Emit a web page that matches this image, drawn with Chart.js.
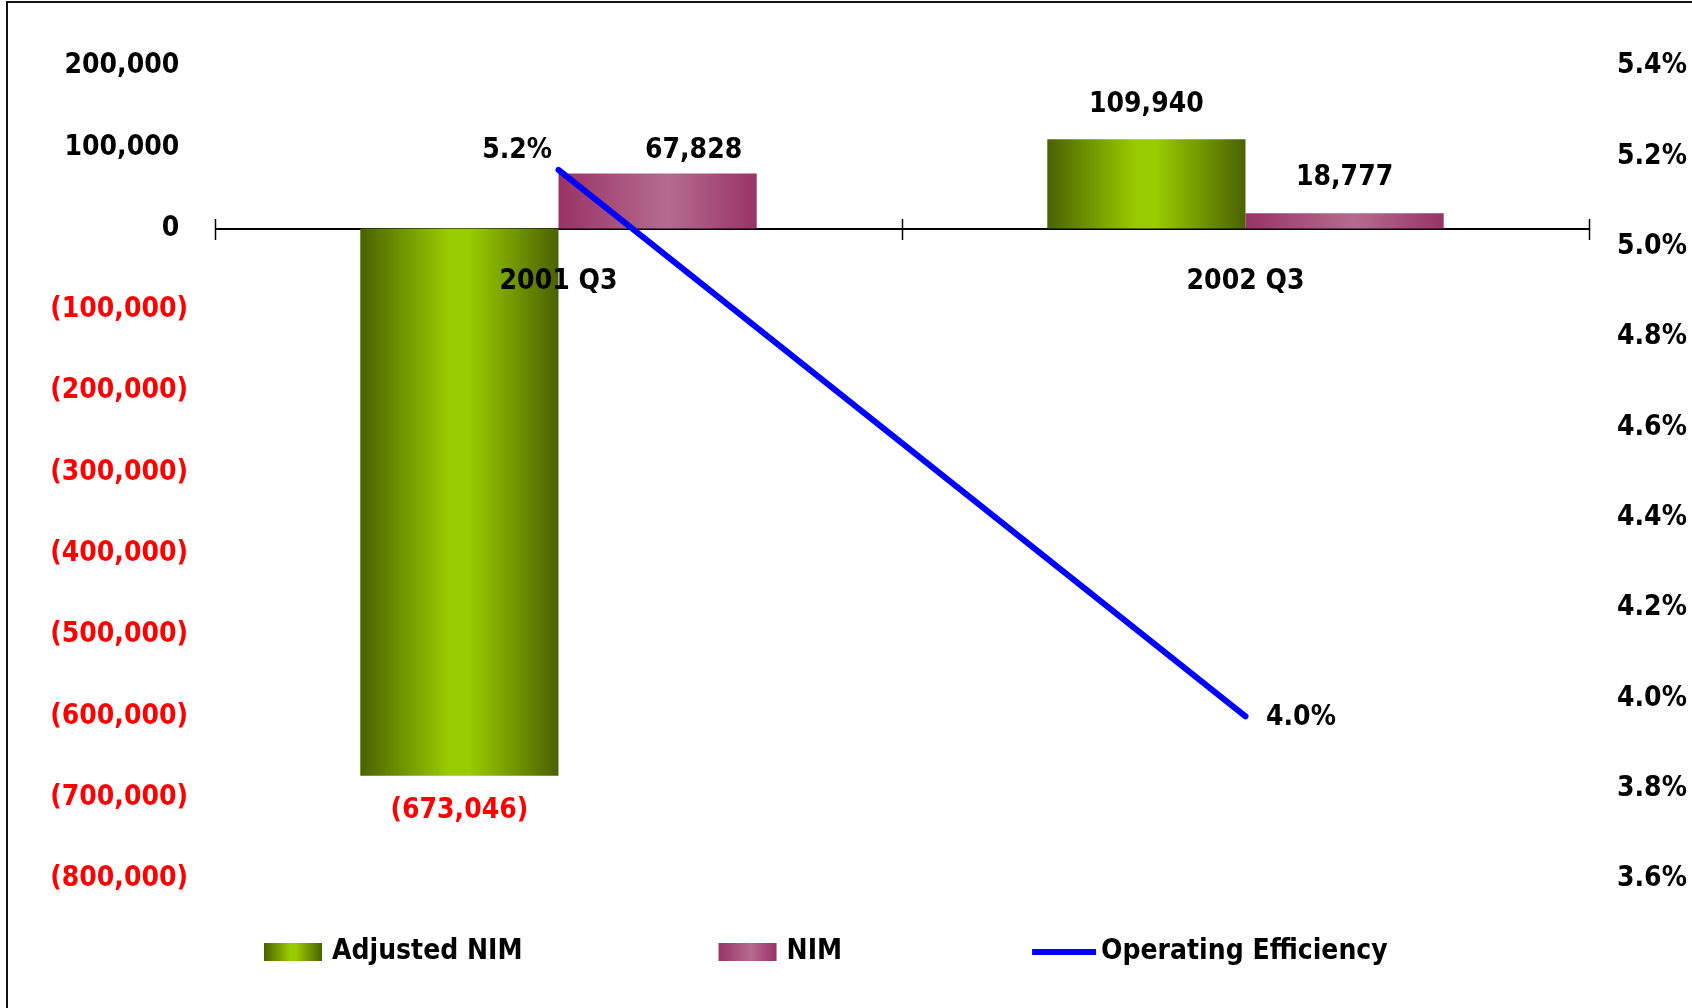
<!DOCTYPE html>
<html>
<head>
<meta charset="utf-8">
<title>Adjusted NIM, NIM and Operating Efficiency</title>
<script src="https://cdn.jsdelivr.net/npm/chart.js@4.4.1/dist/chart.umd.min.js"></script>
<style>
    html, body { margin: 0; padding: 0; background: #fff; }
    #wrap { width: 1692px; height: 1008px; position: relative; }
    #nimChart { display: block; width: 1692px; height: 1008px; }
</style>
</head>
<body>
<div id="wrap"><canvas id="nimChart" width="1692" height="1008"></canvas></div>
<script>
/**
 * Adjusted NIM / NIM (bars, left axis) vs Operating Efficiency (line, right axis)
 */

const quarters = ['2001 Q3', '2002 Q3'];
const adjustedNim = [-673046, 109940];
const nim = [67828, 18777];
const operatingEfficiency = [5.17, 3.96];

const amountTicks = [200000, 100000, 0, -100000, -200000, -300000, -400000, -500000, -600000, -700000, -800000];
const percentTicks = [5.4, 5.2, 5.0, 4.8, 4.6, 4.4, 4.2, 4.0, 3.8, 3.6];

const FONT_FAMILY = "'DejaVu Sans Condensed', 'DejaVu Sans', sans-serif";
const FONT = { family: FONT_FAMILY, size: 28, weight: 'bold' };
const RED = '#ff0000';

// horizontal shading for the bar fills: dark edge -> light middle -> dark edge
const greenShade = [[0, '#4a6200'], [0.45, '#99cc00'], [0.55, '#99cc00'], [1, '#4a6200']];
const pinkShade = [[0, '#993366'], [0.55, '#b56b8f'], [1, '#993366']];

function formatAmount(v) {
    const s = Math.abs(v).toLocaleString('en-US');
    return v < 0 ? '(' + s + ')' : s;
}

function formatPercent(v) {
    return v.toFixed(1) + '%';
}

function shadeGradient(ctx, left, right, stops) {
    const g = ctx.createLinearGradient(left, 0, right, 0);
    stops.forEach(([off, col]) => g.addColorStop(off, col));
    return g;
}

/**
 * Outer frame (top and left edges only are inside the canvas)
 */
const framePlugin = {
    id: 'frame',
    beforeDraw(chart) {
        const ctx = chart.ctx;
        ctx.save();
        ctx.fillStyle = '#fff';
        ctx.fillRect(0, 0, chart.width, chart.height);
        ctx.strokeStyle = '#111';
        ctx.lineWidth = 2;
        ctx.beginPath();
        ctx.moveTo(7, chart.height);
        ctx.lineTo(7, 2);
        ctx.lineTo(chart.width, 2);
        ctx.stroke();
        ctx.restore();
    }
};

/**
 * Gradient fills on every bar, sized to the bar itself
 */
const shadePlugin = {
    id: 'shade',
    beforeDatasetsDraw(chart) {
        chart.data.datasets.forEach((ds, i) => {
            if (!ds.shade) return;
            chart.getDatasetMeta(i).data.forEach(bar => {
                const half = bar.width / 2;
                bar.options = Object.assign({}, bar.options, {
                    backgroundColor: shadeGradient(chart.ctx, bar.x - half, bar.x + half, ds.shade)
                });
            });
        });
    }
};

/**
 * Zero line with tick marks crossing it at the category boundaries
 */
const zeroAxisPlugin = {
    id: 'zeroAxis',
    beforeDatasetsDraw(chart) {
        const ctx = chart.ctx;
        const xs = chart.scales.x;
        const y0 = Math.round(chart.scales.y.getPixelForValue(0));
        const step = xs.getPixelForTick(1) - xs.getPixelForTick(0);
        ctx.save();
        ctx.strokeStyle = '#000';
        ctx.lineWidth = 2;
        ctx.beginPath();
        ctx.moveTo(xs.left, y0);
        ctx.lineTo(xs.right, y0);
        ctx.stroke();
        ctx.lineWidth = 1.5;
        for (let i = 0; i <= quarters.length; i++) {
            const x = Math.round(xs.getPixelForTick(0) - step / 2 + i * step) + 0.5;
            ctx.beginPath();
            ctx.moveTo(x, y0 - 10);
            ctx.lineTo(x, y0 + 11);
            ctx.stroke();
        }
        ctx.restore();
    }
};

/**
 * Value labels for bars and line points
 */
const valueLabelPlugin = {
    id: 'valueLabels',
    afterDatasetsDraw(chart, args, opts) {
        const ctx = chart.ctx;
        ctx.save();
        ctx.font = `${FONT.weight} ${FONT.size}px ${FONT.family}`;
        ctx.textBaseline = 'middle';
        chart.data.datasets.forEach((ds, i) => {
            const meta = chart.getDatasetMeta(i);
            const place = opts.placement[i];
            meta.data.forEach((el, j) => {
                const v = ds.data[j];
                const p = place[j];
                ctx.textAlign = p.align || 'center';
                if (ds.type === 'line') {
                    ctx.fillStyle = '#000';
                    ctx.fillText(formatPercent(v), el.x + p.dx, el.y + p.dy);
                } else {
                    ctx.fillStyle = v < 0 ? RED : '#000';
                    ctx.fillText(formatAmount(v), el.x + p.dx, el.y + p.dy);
                }
            });
        });
        ctx.restore();
    }
};

/**
 * Legend drawn along the bottom: shaded swatch for bars, stroke for the line
 */
const bottomLegendPlugin = {
    id: 'bottomLegend',
    afterDraw(chart, args, opts) {
        const ctx = chart.ctx;
        ctx.save();
        ctx.font = `${FONT.weight} ${FONT.size}px ${FONT.family}`;
        ctx.textBaseline = 'middle';
        ctx.textAlign = 'left';
        let x = opts.startX;
        const cy = opts.centerY;
        chart.data.datasets.forEach(ds => {
            if (ds.type === 'line') {
                ctx.strokeStyle = ds.borderColor;
                ctx.lineWidth = 6;
                ctx.beginPath();
                ctx.moveTo(x - 6, cy);
                ctx.lineTo(x + opts.swatchW, cy);
                ctx.stroke();
                x += opts.swatchW + 5;
            } else {
                ctx.fillStyle = shadeGradient(ctx, x, x + opts.swatchW, ds.shade);
                ctx.fillRect(x, cy - opts.swatchH / 2, opts.swatchW, opts.swatchH);
                x += opts.swatchW + 10;
            }
            ctx.fillStyle = '#000';
            ctx.fillText(ds.label, x, cy);
            x += ctx.measureText(ds.label).width + opts.gap;
        });
        ctx.restore();
    }
};

const ctx = document.getElementById('nimChart').getContext('2d');
const chart = new Chart(ctx, {
    data: {
        labels: quarters,
        datasets: [
            {
                type: 'bar',
                label: 'Adjusted NIM',
                data: adjustedNim,
                backgroundColor: '#99cc00',
                shade: greenShade,
                yAxisID: 'y',
                order: 1
            },
            {
                type: 'bar',
                label: 'NIM',
                data: nim,
                backgroundColor: '#b56b8f',
                shade: pinkShade,
                yAxisID: 'y',
                order: 1
            },
            {
                type: 'line',
                label: 'Operating Efficiency',
                data: operatingEfficiency,
                borderColor: '#0000ff',
                backgroundColor: '#0000ff',
                borderWidth: 6,
                borderCapStyle: 'round',
                pointRadius: 0,
                tension: 0,
                yAxisID: 'y1',
                order: 0
            }
        ]
    },
    options: {
        responsive: false,
        animation: false,
        devicePixelRatio: 1,
        layout: { padding: { top: 66, bottom: 129, left: 0, right: 0 } },
        datasets: {
            bar: { categoryPercentage: 0.577, barPercentage: 1 }
        },
        plugins: {
            legend: { display: false },
            tooltip: { enabled: false },
            valueLabels: {
                placement: [
                    [{ dx: 0, dy: 35 }, { dx: 0, dy: -35 }],
                    [{ dx: 36, dy: -23 }, { dx: 0, dy: -36 }],
                    [{ dx: -6.5, dy: -19.5, align: 'right' }, { dx: 20.5, dy: 1, align: 'left' }]
                ]
            },
            bottomLegend: { startX: 264, centerY: 952, swatchW: 58, swatchH: 18, gap: 196 }
        },
        scales: {
            x: {
                type: 'category',
                position: { y: 0 },
                offset: true,
                grid: { display: false, drawTicks: false },
                border: { display: false },
                // labels sit on top of the bars
                ticks: { color: '#000', font: FONT, padding: 36, maxRotation: 0, z: 1 }
            },
            y: {
                type: 'linear',
                position: 'left',
                min: -800000,
                max: 200000,
                afterBuildTicks: (scale) => { scale.ticks = amountTicks.map(v => ({ value: v })); },
                afterFit: (scale) => { scale.width = 215; },
                grid: { display: false, drawTicks: false },
                border: { display: false },
                ticks: {
                    font: FONT,
                    padding: 27,
                    color: (c) => c.tick.value < 0 ? RED : '#000',
                    callback: (v) => v < 0 ? formatAmount(v) : formatAmount(v) + ' '
                }
            },
            y1: {
                type: 'linear',
                position: 'right',
                min: 3.6,
                max: 5.4,
                afterBuildTicks: (scale) => { scale.ticks = percentTicks.map(v => ({ value: v })); },
                afterFit: (scale) => { scale.width = 103; },
                grid: { display: false, drawTicks: false },
                border: { display: false },
                ticks: { font: FONT, padding: 28, color: '#000', callback: (v) => formatPercent(v) }
            }
        }
    },
    plugins: [framePlugin, shadePlugin, zeroAxisPlugin, valueLabelPlugin, bottomLegendPlugin]
});
</script>
</body>
</html>
